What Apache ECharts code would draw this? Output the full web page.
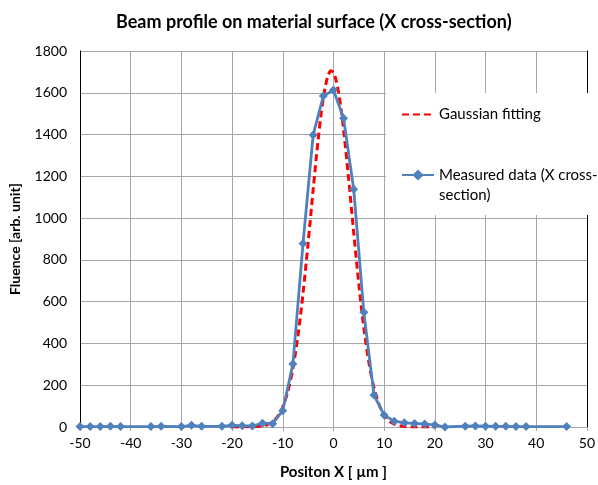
<!DOCTYPE html>
<html>
<head>
<meta charset="utf-8">
<script src="https://cdn.jsdelivr.net/npm/echarts@6/dist/echarts.min.js"></script>
<style>
  html, body { margin: 0; padding: 0; background: #fff; }
  #chart { width: 598px; height: 485px; }
</style>
</head>
<body>
<div id="chart"></div>
<script>
// Measured profile (X cross-section), position in µm
const positions = [-50, -48, -46, -44, -42, -36, -34, -30, -28, -26, -22, -20, -18, -16, -14, -12,
  -10, -8, -6, -4, -2, 0, 2, 4, 6, 8, 10, 12, 14, 16, 18, 20, 22, 26, 28, 30, 32, 34, 36, 38, 46];
const measured = [2, 2, 2, 3, 2, 2, 3, 2, 8, 3, 3, 8, 6, 5, 18, 16,
  78, 301, 879, 1398, 1584, 1613, 1478, 1138, 549, 153, 57, 28, 20, 17, 14, 10, 0, 4, 5, 4, 3, 3, 2, 2, 2];

// Gaussian fit curve, sampled along X
const fitX = [-20, -16, -14, -13, -12, -11, -10, -9, -8, -7, -6, -5, -4, -3, -2.5, -2, -1.5, -1, -0.5,
  0, 0.5, 1, 1.5, 2, 3, 4, 5, 6, 7, 8, 9, 10, 11, 12, 13, 14, 16, 20];
const fitY = [0, 1, 5, 12, 25, 51, 96, 169, 280, 437, 640, 880, 1137, 1380, 1486, 1574, 1642, 1686, 1705,
  1696, 1662, 1604, 1523, 1424, 1188, 931, 686, 474, 308, 188, 108, 58, 29, 14, 6, 2, 0, 0];

// Axis ticks
const xTicks = { min: -50, max: 50, step: 10 };
const yTicks = { min: 0, max: 1800, step: 200 };

const titleText = 'Beam profile on material surface (X cross-section)';
const xName = 'Positon X [ µm ]';
const yName = 'Fluence [arb. unit]';
const fitName = 'Gaussian fitting';
const measName = 'Measured data (X cross-section)';

const FONT = 'Lato, "Open Sans", sans-serif';
const BLUE = '#4F81BD';
const RED = '#FF0000';
const GRID = '#A6A6A6';

const chart = echarts.init(document.getElementById('chart'), null, { renderer: 'canvas' });

chart.setOption({
  animation: false,
  backgroundColor: '#fff',
  textStyle: { fontFamily: FONT },
  title: {
    text: titleText,
    left: 111,
    top: 8,
    textStyle: { fontFamily: FONT, fontSize: 18, fontWeight: 'bold', color: '#000' }
  },
  grid: { left: 79, right: 11, top: 51, bottom: 58, containLabel: false },
  xAxis: {
    type: 'value',
    min: xTicks.min, max: xTicks.max, interval: xTicks.step,
    name: xName,
    nameLocation: 'middle',
    nameGap: 38,
    nameTextStyle: { fontFamily: FONT, fontSize: 15, fontWeight: 'bold', color: '#000' },
    axisLine: { show: true, onZero: false, lineStyle: { color: GRID, width: 1 } },
    axisTick: { show: true, inside: false, length: 4, lineStyle: { color: GRID } },
    axisLabel: { fontFamily: FONT, fontSize: 14, color: '#000', margin: 9 },
    splitLine: { show: true, lineStyle: { color: GRID, width: 1 } }
  },
  yAxis: [{
    type: 'value',
    min: yTicks.min, max: yTicks.max, interval: yTicks.step,
    name: yName,
    nameLocation: 'middle',
    nameGap: 58,
    nameTextStyle: { fontFamily: FONT, fontSize: 14, fontWeight: 'bold', color: '#000' },
    axisLine: { show: true, onZero: false, lineStyle: { color: '#000', width: 1 } },
    axisTick: { show: false },
    axisLabel: { fontFamily: FONT, fontSize: 14, color: '#000', margin: 13, formatter: v => String(v) },
    splitLine: { show: true, lineStyle: { color: GRID, width: 1 } }
  }, {
    type: 'value',
    position: 'right',
    min: yTicks.min, max: yTicks.max, interval: yTicks.step,
    axisLine: { show: true, onZero: false, lineStyle: { color: '#000', width: 1 } },
    axisTick: { show: false },
    axisLabel: { show: false },
    splitLine: { show: false }
  }],
  legend: [{
    data: [fitName],
    orient: 'vertical',
    left: 401,
    top: 107,
    padding: 0,
    itemWidth: 32,
    itemHeight: 14,
    itemStyle: { color: 'transparent', borderColor: 'transparent', borderWidth: 0 },
    textStyle: { fontFamily: FONT, fontSize: 15, color: '#000' },
    z: 5
  }, {
    data: [measName],
    orient: 'vertical',
    left: 401,
    top: 145,
    padding: 0,
    itemWidth: 32,
    itemHeight: 14,
    textStyle: { fontFamily: FONT, fontSize: 15, color: '#000', lineHeight: 20 },
    // blank first line keeps the icon level with the first text line
    formatter: function () { return ' \nMeasured data (X cross-\nsection)'; },
    z: 5
  }],
  graphic: [{
    type: 'rect',
    shape: { x: 386, y: 93, width: 212, height: 122 },
    style: { fill: '#fff' },
    z: 3
  }],
  series: [{
    name: fitName,
    type: 'line',
    data: fitX.map((x, i) => [x, fitY[i]]),
    smooth: 0.3,
    showSymbol: false,
    symbol: 'none',
    lineStyle: { color: RED, width: 3, type: [7, 4] },
    itemStyle: { color: RED },
    z: 2
  }, {
    name: measName,
    type: 'line',
    data: positions.map((x, i) => [x, measured[i]]),
    symbol: 'diamond',
    symbolSize: 9,
    lineStyle: { color: BLUE, width: 2.8 },
    itemStyle: { color: BLUE },
    z: 3
  }]
});
</script>
</body>
</html>
